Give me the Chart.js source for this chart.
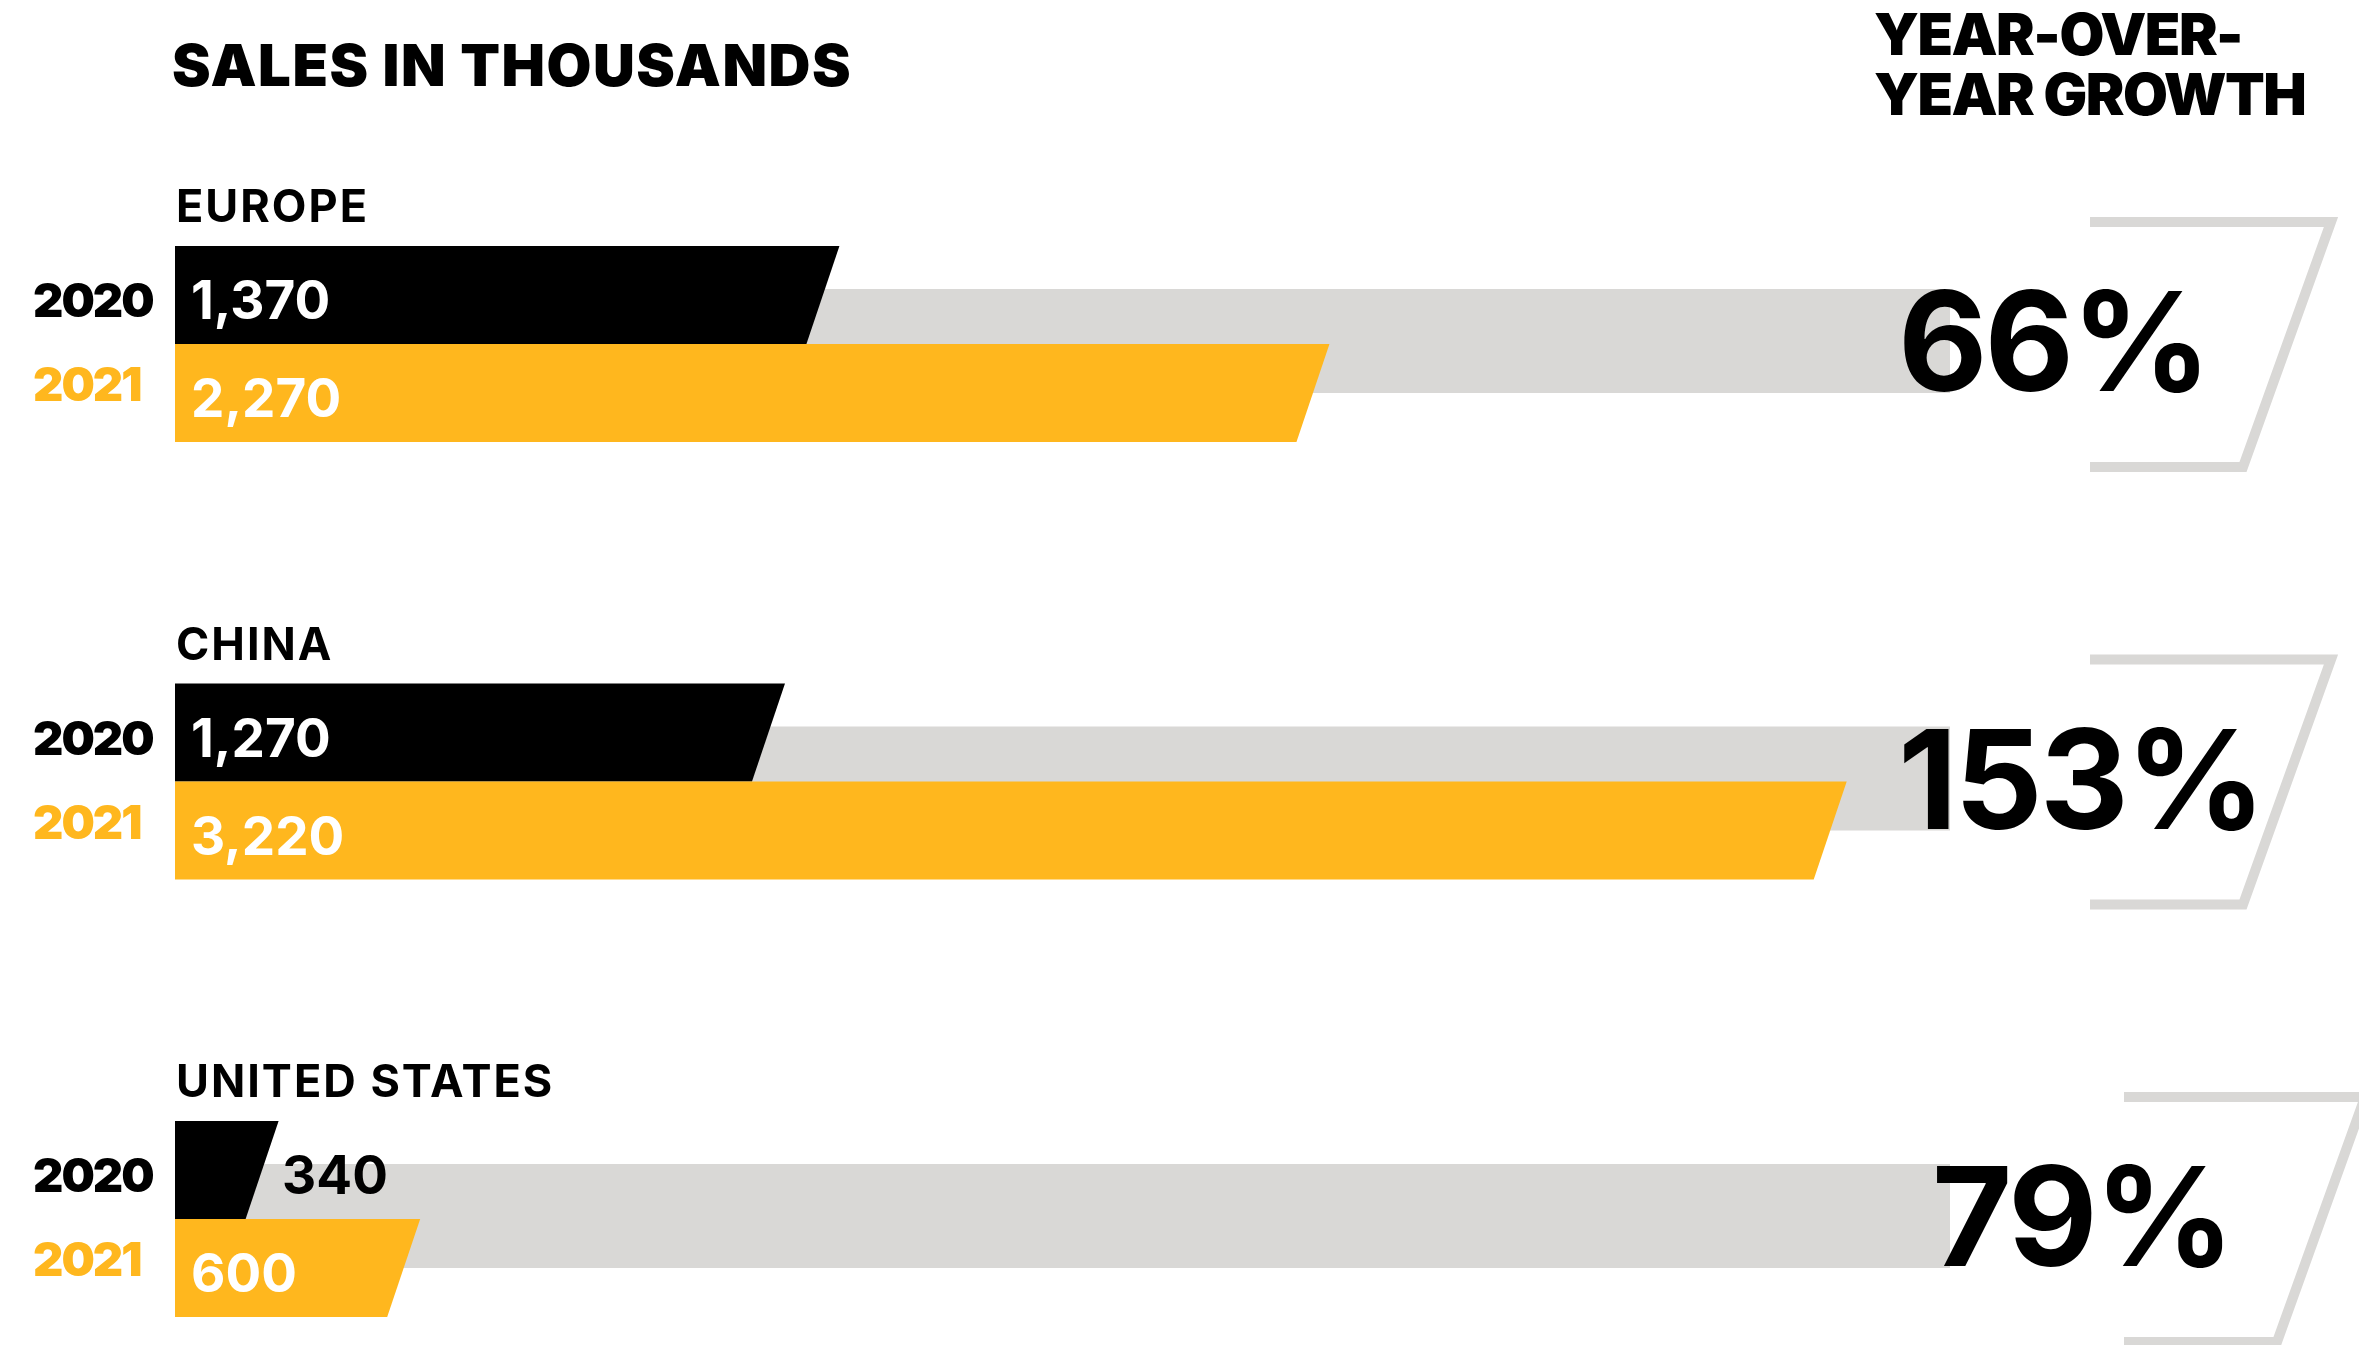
<!DOCTYPE html>
<html>
<head>
<meta charset="utf-8">
<title>Sales in thousands</title>
<script src="https://cdn.jsdelivr.net/npm/chart.js@4.4.1/dist/chart.umd.min.js"></script>
<style>
  html, body { margin: 0; padding: 0; background: #fff; }
  canvas { display: block; }
</style>
</head>
<body>
<canvas id="salesChart" width="2359" height="1345"></canvas>
<script>
const regions = ['EUROPE', 'CHINA', 'UNITED STATES'];
const years = ['2020', '2021'];
const sales2020 = [1370, 1270, 340];
const sales2021 = [2270, 3220, 600];
const growth = [66, 153, 79];

const BLACK = '#000000';
const YELLOW = '#ffb71e';
const GREY = '#d9d8d6';
const FONT = "Inter, 'Open Sans', sans-serif";
// the last row of the right column sits a bit further right in the original
const rightNudge = [0, 0, 34];

function fmt(v) {
  return v.toLocaleString('en-US');
}

// grey tracks + slanted bars, then all the texts and the brackets
const infographic = {
  id: 'infographic',
  beforeDatasetsDraw(chart) {
    const ctx = chart.ctx;
    const area = chart.chartArea;
    const yScale = chart.scales.y;
    ctx.save();
    ctx.fillStyle = GREY;
    regions.forEach((r, i) => {
      const c = yScale.getPixelForValue(i);
      ctx.fillRect(area.left, c - 55, area.right - area.left, 104);
    });
    chart.data.datasets.forEach((ds, di) => {
      chart.getDatasetMeta(di).data.forEach(bar => {
        const p = bar.getProps(['x', 'y', 'base', 'height'], true);
        const top = p.y - p.height / 2;
        const bottom = p.y + p.height / 2;
        ctx.fillStyle = ds.backgroundColor;
        ctx.beginPath();
        ctx.moveTo(p.base, top);
        ctx.lineTo(p.x + 16.5, top);
        ctx.lineTo(p.x - 16.5, bottom);
        ctx.lineTo(p.base, bottom);
        ctx.closePath();
        ctx.fill();
      });
    });
    ctx.restore();
    return false;
  },
  afterDraw(chart) {
    const ctx = chart.ctx;
    const area = chart.chartArea;
    const yScale = chart.scales.y;
    ctx.save();
    ctx.textBaseline = 'alphabetic';
    ctx.textAlign = 'left';

    ctx.fillStyle = BLACK;
    ctx.font = '900 58px ' + FONT;
    ctx.letterSpacing = '1.5px';
    ctx.fillText('SALES IN THOUSANDS', area.left - 3, 86);
    ctx.letterSpacing = '-1.5px';
    ctx.fillText('YEAR-OVER-', 1874, 55);
    ctx.fillText('YEAR GROWTH', 1874, 115);

    regions.forEach((name, i) => {
      const c = yScale.getPixelForValue(i);
      const shift = rightNudge[i];

      ctx.fillStyle = BLACK;
      ctx.font = '700 45px ' + FONT;
      ctx.letterSpacing = '2px';
      ctx.fillText(name, area.left + 1, c - 122);

      ctx.font = '900 47px ' + FONT;
      ctx.letterSpacing = '-2px';
      ctx.fillStyle = BLACK;
      ctx.fillText(years[0], area.left - 142, c - 27);
      ctx.fillStyle = YELLOW;
      ctx.fillText(years[1], area.left - 142, c + 57);

      // growth number and its bracket
      ctx.fillStyle = BLACK;
      ctx.font = '700 138px ' + FONT;
      ctx.letterSpacing = '-3px';
      ctx.fillText(growth[i] + '%', 1898 + shift, c + 47);
      ctx.letterSpacing = '0px';

      ctx.strokeStyle = GREY;
      ctx.lineWidth = 10;
      ctx.lineJoin = 'miter';
      ctx.beginPath();
      ctx.moveTo(2090 + shift, c - 122);
      ctx.lineTo(2331 + shift, c - 122);
      ctx.lineTo(2243 + shift, c + 123);
      ctx.lineTo(2090 + shift, c + 123);
      ctx.stroke();
    });

    // value labels: inside the bar when it fits, else just after it
    ctx.font = '700 53px ' + FONT;
    chart.data.datasets.forEach((ds, di) => {
      chart.getDatasetMeta(di).data.forEach((bar, i) => {
        const p = bar.getProps(['x', 'y', 'base'], true);
        const txt = fmt(ds.data[i]);
        const w = ctx.measureText(txt).width;
        if (p.x - p.base > w + 40) {
          ctx.fillStyle = '#ffffff';
          ctx.fillText(txt, p.base + 16, p.y + 24);
        } else {
          ctx.fillStyle = BLACK;
          ctx.fillText(txt, p.x + 20, p.y + 24);
        }
      });
    });
    ctx.restore();
  }
};

new Chart(document.getElementById('salesChart'), {
  type: 'bar',
  data: {
    labels: regions,
    datasets: [
      { label: years[0], data: sales2020, backgroundColor: BLACK, base: 180, barThickness: 98 },
      { label: years[1], data: sales2021, backgroundColor: YELLOW, base: 180, barThickness: 98 },
    ],
  },
  options: {
    indexAxis: 'y',
    responsive: false,
    animation: false,
    layout: { padding: { left: 175, right: 409, top: 344, bottom: 126 } },
    scales: {
      x: { type: 'linear', min: 180, max: 3440, display: false },
      y: { type: 'category', offset: false, display: false },
    },
    plugins: {
      legend: { display: false },
      tooltip: { enabled: false },
    },
  },
  plugins: [infographic],
});
</script>
</body>
</html>
